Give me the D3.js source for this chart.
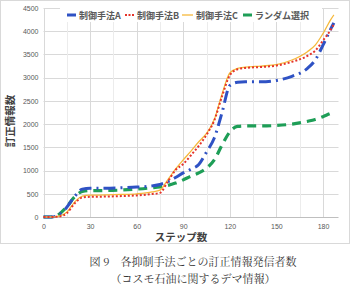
<!DOCTYPE html>
<html><head><meta charset="utf-8">
<script src="https://cdn.jsdelivr.net/npm/d3@7"></script>
<style>
html,body{margin:0;padding:0;background:#fff;}
svg{display:block;font-family:"Noto Sans CJK JP","Noto Sans",sans-serif;}
</style></head>
<body><svg id="c" width="352" height="285"></svg>
<script>
const steps = [0,5,10,15,20,25,30,40,50,60,70,75,80,85,90,95,100,105,110,115,120,125,130,140,150,160,170,175,180,185,187];
const seriesNames = ["制御手法A","制御手法B","制御手法C","ランダム選択"];
const valuesA = [0,0,50,210,440,600,620,620,630,645,670,700,760,850,950,1030,1130,1400,1700,2250,2830,2900,2910,2910,2940,3030,3200,3380,3700,4050,4180];
const valuesB = [0,0,10,80,290,420,435,440,450,465,495,520,760,1010,1140,1330,1530,1770,2080,2600,3050,3180,3210,3230,3260,3340,3470,3580,3800,4030,4150];
const valuesC = [0,0,20,100,320,450,470,475,485,500,540,580,800,1030,1230,1420,1620,1800,2100,2650,3100,3200,3225,3250,3280,3380,3560,3700,3950,4250,4350];
const valuesD = [0,0,60,220,430,550,570,570,580,600,630,650,680,730,800,880,950,1050,1230,1550,1830,1950,1960,1960,1970,2000,2060,2100,2160,2230,2250];
const yTicks = [0,500,1000,1500,2000,2500,3000,3500,4000,4500];
const xTicks = [0,30,60,90,120,150,180];
const xTitle = "ステップ数";
const yTitle = "訂正情報数";
const caption1 = "図 9　各抑制手法ごとの訂正情報発信者数";
const caption2 = "（コスモ石油に関するデマ情報）";

const svg = d3.select("#c");
const x = d3.scaleLinear().domain([0,190]).range([43.5,338.5]);
const y = d3.scaleLinear().domain([0,4500]).range([217,8]);

// outer frame
svg.append("rect").attr("x",0.5).attr("y",0.5).attr("width",349).attr("height",243)
  .attr("fill","#fff").attr("stroke","#d9d9d9");

// gridlines
const g = svg.append("g");
g.selectAll(".hg").data(yTicks.slice(1)).join("line")
  .attr("x1",x(0)).attr("x2",x(190)).attr("y1",d=>Math.round(y(d))+0.5).attr("y2",d=>Math.round(y(d))+0.5)
  .attr("stroke","#d9d9d9").attr("stroke-width",1);
g.selectAll(".vg").data(d3.range(15,181,15)).join("line")
  .attr("y1",y(0)).attr("y2",y(4500)).attr("x1",d=>Math.round(x(d))+0.5).attr("x2",d=>Math.round(x(d))+0.5)
  .attr("stroke",d=>d%30===0?"#d9d9d9":"#ececec").attr("stroke-width",1);

// axes lines
svg.append("line").attr("x1",x(0)).attr("x2",x(190)).attr("y1",Math.round(y(0))+0.5).attr("y2",Math.round(y(0))+0.5)
  .attr("stroke","#bfbfbf");
svg.append("line").attr("x1",Math.round(x(0))+0.5).attr("x2",Math.round(x(0))+0.5).attr("y1",y(0)).attr("y2",y(4500))
  .attr("stroke","#d9d9d9");

// tick labels
const yAxis = d3.axisLeft(y).tickValues(yTicks).tickFormat(d3.format("d")).tickSize(0).tickPadding(5);
const ya = svg.append("g").attr("transform",`translate(${x(0)},0)`).call(yAxis);
ya.select(".domain").remove();
ya.selectAll("text").attr("font-size",7).attr("fill","#595959").attr("font-family","Liberation Sans, Arial, sans-serif");
const xAxis = d3.axisBottom(x).tickValues(xTicks).tickFormat(d3.format("d")).tickSize(0).tickPadding(7);
const xa = svg.append("g").attr("transform",`translate(0,${y(0)})`).call(xAxis);
xa.select(".domain").remove();
xa.selectAll("text").attr("font-size",7).attr("fill","#595959").attr("font-family","Liberation Sans, Arial, sans-serif");

// titles
svg.append("text").attr("x",181).attr("y",241).attr("text-anchor","middle")
  .attr("font-size",10.5).attr("font-weight","bold").attr("fill","#404040").text(xTitle);
svg.append("text").attr("transform","translate(14,121) rotate(-90)").attr("text-anchor","middle")
  .attr("font-size",10.5).attr("font-weight","bold").attr("fill","#404040").text(yTitle);

// series
const styles = [
  {color:"#2f52c4", width:3, dash:"12,5,2,5", vals:valuesA},
  {color:"#e5332a", width:2, dash:"2,2", vals:valuesB},
  {color:"#f6b93b", width:1.3, dash:null, vals:valuesC},
  {color:"#1e9e57", width:3.2, dash:"9,6", vals:valuesD}
];
const line = d3.line().x(d=>x(d[0])).y(d=>y(d[1])).curve(d3.curveMonotoneX);
const order = [3,0,2,1];
order.forEach(i=>{
  const s = styles[i];
  svg.append("path").datum(steps.map((st,k)=>[st,s.vals[k]]))
    .attr("d",line).attr("fill","none").attr("stroke",s.color).attr("stroke-width",s.width)
    .attr("stroke-dasharray",s.dash).attr("stroke-linecap","butt");
});

// legend
svg.append("rect").attr("x",60).attr("y",7).attr("width",262).attr("height",15).attr("fill","#fff");
const legX = [67,125,182,243];
seriesNames.forEach((n,i)=>{
  const s = styles[i];
  const lx = legX[i];
  svg.append("line").attr("x1",lx).attr("x2",lx+(i===2?11:9)).attr("y1",15).attr("y2",15)
    .attr("stroke",s.color).attr("stroke-width",i===1?2:(i===2?1.3:3)).attr("stroke-dasharray",i===1?"2,1.5":null);
  svg.append("text").attr("x",lx+(i===2?14:12)).attr("y",18.5).attr("font-size",9).attr("font-weight","bold")
    .attr("fill","#595959").text(n);
});

// caption
svg.append("text").attr("x",193).attr("y",266).attr("text-anchor","middle").attr("font-size",11)
  .attr("fill","#333").attr("font-family","Noto Serif CJK JP, Noto Sans CJK JP, serif").text(caption1);
svg.append("text").attr("x",193).attr("y",283).attr("text-anchor","middle").attr("font-size",11)
  .attr("fill","#333").attr("font-family","Noto Serif CJK JP, Noto Sans CJK JP, serif").text(caption2);
</script></body></html>
